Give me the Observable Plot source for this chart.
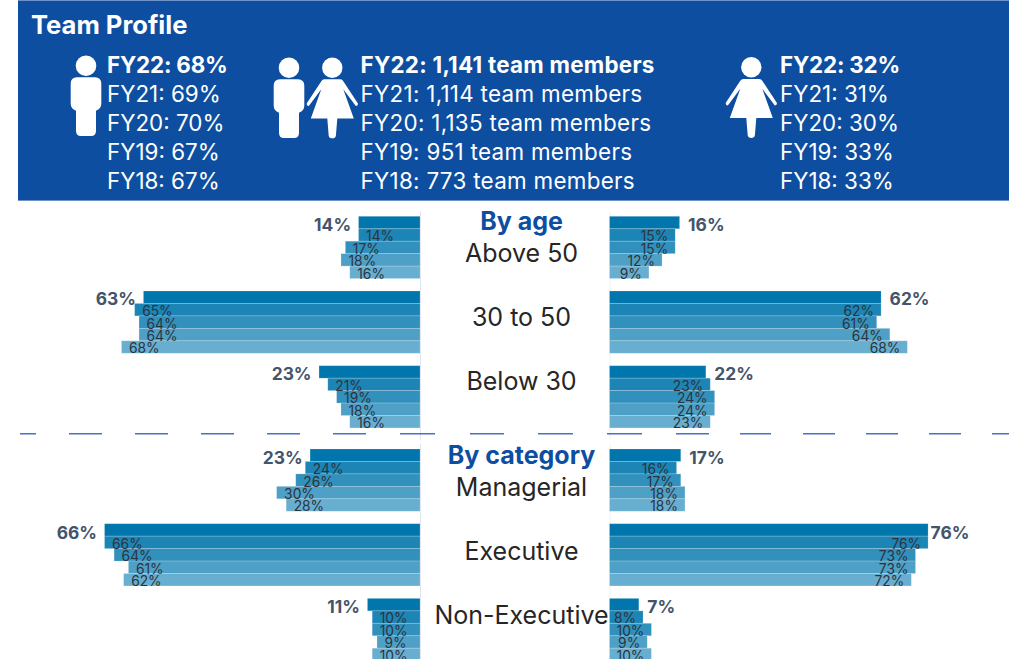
<!DOCTYPE html>
<html>
<head>
<meta charset="utf-8">
<script src="https://cdn.jsdelivr.net/npm/d3@7"></script>
<script src="https://cdn.jsdelivr.net/npm/@observablehq/plot@0.6"></script>
<style>
html,body{margin:0;padding:0;background:#fff;overflow:hidden;width:1009px;height:659px;font-family:Inter,"Liberation Sans",sans-serif}
#wrap{position:relative;width:1009px;height:659px;overflow:hidden}
#banner{position:absolute;left:18px;top:0;width:991px;height:199px;background:#0d4ea1;border-top:1px solid #6f93c9;border-bottom:1px solid #6f93c9}
.t{position:absolute;color:#fff;white-space:nowrap;font-size:22.4px;line-height:29px}
.t div:first-child{font-weight:700;letter-spacing:-.2px}
#col2{letter-spacing:.3px}
#col2 div:first-child{letter-spacing:.25px}
#title{position:absolute;left:31px;top:10px;color:#fff;font-weight:700;font-size:25.6px;line-height:30px}
#icons{position:absolute;left:0;top:0}
</style>
</head>
<body>
<div id="wrap">
  <div id="banner"></div>
  <div id="title">Team Profile</div>
  <svg id="icons" width="1009" height="200" fill="#fff">
    <defs>
      <g id="man">
        <circle cx="0" cy="0" r="10.3"/>
        <path d="M-9,11.5H9Q15.3,11.5 15.3,18V38Q15.3,43 10,45V65Q10,70.3 5,70.3H-5Q-10,70.3 -10,65V45Q-15.3,43 -15.3,38V18Q-15.3,11.5 -9,11.5Z"/>
      </g>
      <g id="woman">
        <circle cx="0" cy="0" r="10.2"/>
        <path d="M-8,11.6H8Q10,11.6 11,13.5L25.5,35.5Q26,38 23.5,38.3L11,21.5L21.5,50.8H5L3.6,68Q3,70.6 0,70.6Q-3,70.6 -3.6,68L-5,50.8H-21.5L-11,21.5L-23.5,38.3Q-26,38 -25.5,35.5L-11,13.5Q-10,11.6 -8,11.6Z"/>
      </g>
    </defs>
    <use href="#man" x="86" y="65.7"/>
    <use href="#man" x="289" y="67.7"/>
    <use href="#woman" x="332.3" y="67.7"/>
    <use href="#woman" x="751.3" y="67.3"/>
  </svg>
  <div id="col1" class="t" style="left:107px;top:50px"></div>
  <div id="col2" class="t" style="left:360.5px;top:50px"></div>
  <div id="col3" class="t" style="left:780px;top:50px"></div>
</div>
<script>
const fiscalYears = ["FY22","FY21","FY20","FY19","FY18"];
const malePct = ["68%","69%","70%","67%","67%"];
const teamMembers = ["1,141","1,114","1,135","951","773"];
const femalePct = ["32%","31%","30%","33%","33%"];

const ageGroups = ["Above 50","30 to 50","Below 30"];
const ageMale = [[14,14,17,18,16],[63,65,64,64,68],[23,21,19,18,16]];
const ageFemale = [[16,15,15,12,9],[62,62,61,64,68],[22,23,24,24,23]];

const categoryGroups = ["Managerial","Executive","Non-Executive"];
const categoryMale = [[23,24,26,30,28],[66,66,64,61,62],[11,10,10,9,10]];
const categoryFemale = [[17,16,17,18,18],[76,76,73,73,72],[7,8,10,9,10]];

const yearColors = ["#0076ad","#1c85b6","#3290bc","#4fa0c6","#68aed0"];
const FONT = 'Inter,"Liberation Sans",sans-serif';
const wrap = document.getElementById("wrap");

function place(plot,left,top){
  plot.style.position="absolute";
  plot.style.left=left+"px";
  plot.style.top=top+"px";
  wrap.appendChild(plot);
}
function fillCol(id, fmt){
  document.getElementById(id).innerHTML = fiscalYears.map((y,i)=>`<div>${y}: ${fmt(i)}</div>`).join("");
}
fillCol("col1", i=>malePct[i]);
fillCol("col2", i=>teamMembers[i]+" team members");
fillCol("col3", i=>femalePct[i]);

function rowsOf(groups, male, female){
  const out = [];
  groups.forEach((g,gi)=>{
    fiscalYears.forEach((fy,yi)=>{
      const row = g+"|"+fy;
      out.push({row, side:"M", v:male[gi][yi], yi, a:0, b:-male[gi][yi]});
      out.push({row, side:"F", v:female[gi][yi], yi, a:1, b:1+female[gi][yi]});
    });
  });
  return out;
}
function rowDomain(groups){
  const d = [];
  groups.forEach((g,i)=>{
    fiscalYears.forEach(fy=>d.push(g+"|"+fy));
    d.push("gap"+i);
  });
  return d;
}
function barsPlot(groups, male, female, opts){
  const data = rowsOf(groups, male, female);
  const inner = data.filter(d=>d.yi>0);
  const head = data.filter(d=>d.yi===0);
  const pct = d=>d.v+"%";
  const headText = (sel, anchor, dx)=>Plot.text(head.filter(sel),{
    x:"b", y:"row", text:pct, textAnchor:anchor, dx, dy:opts.headDy,
    fontSize:17.4, fontWeight:700, fill:"#44546a"});
  const plot = Plot.plot({
    width:1009, height:opts.height,
    marginTop:opts.marginTop, marginBottom:opts.marginBottom, marginLeft:0, marginRight:0,
    style:{fontFamily:FONT, background:"transparent"},
    x:{type:"linear", domain:opts.xDomain, range:[0,420,609.5,1009], axis:null},
    y:{type:"band", domain:rowDomain(groups), padding:0, round:false, axis:null},
    color:{type:"ordinal", domain:d3.range(5), range:yearColors},
    marks:[
      Plot.ruleX([0],{stroke:"#dde5f0",strokeWidth:1,insetTop:-5}),
      Plot.ruleX([1],{stroke:"#eef1f6",strokeWidth:1,insetTop:-5}),
      Plot.barX(data,{x1:"a",x2:"b",y:"row",fill:"yi",stroke:"#ffffff",strokeOpacity:.22,strokeWidth:.8}),
      Plot.text(inner.filter(d=>d.side==="M"),{x:"b",y:"row",text:pct,textAnchor:"start",dx:7,dy:1.5,fontSize:13.8,fill:"#2a3440"}),
      Plot.text(inner.filter(d=>d.side==="F"),{x:"b",y:"row",text:pct,textAnchor:"end",dx:-7.5,dy:1.5,fontSize:13.8,fill:"#2a3440"}),
      headText(d=>d.side==="M","end",-8),
      headText(d=>d.side==="F"&&d.v<70,"start",8),
      headText(d=>d.side==="F"&&d.v>=70,"start",2),
      ...(opts.extra||[])
    ]
  });
  place(plot,0,opts.top);
}
function centerPlot(header, groups, top){
  const domain = [header, groups[0], "_a", groups[1], "_b", groups[2]];
  const plot = Plot.plot({
    width:189, height:200, margin:0,
    style:{fontFamily:FONT, background:"transparent", overflow:"visible"},
    x:{type:"point", domain:["c"], range:[101,101], axis:null},
    y:{type:"point", domain, range:[21,181], padding:0, axis:null},
    marks:[
      Plot.text([header],{x:()=>"c",y:d=>d,text:d=>d,fontSize:25,fontWeight:700,fill:"#0d4ea1"}),
      Plot.text(groups,{x:()=>"c",y:d=>d,text:d=>d,fontSize:25,fill:"#262626"})
    ]
  });
  place(plot,420,top);
}
barsPlot(ageGroups, ageMale, ageFemale, {
  top:201, height:240, marginTop:15.3, marginBottom:0.6, headDy:2,
  xDomain:[-95.67,0,1,92.2],
  extra:[Plot.ruleY(["gap2"],{stroke:"#4472c4",strokeWidth:1.6,dy:-1,insetLeft:20,
    strokeDasharray:"16 33 33 33 33 33 33 33 33 33 33 34 35 35 34 34 35 34 35 34 33 31 31 32 32 31 32 31 32 31 17 10"})]
});
barsPlot(categoryGroups, categoryMale, categoryFemale, {
  top:441, height:218, marginTop:8, marginBottom:-14.1, headDy:2.5,
  xDomain:[-87.87,0,1,96.3]
});
centerPlot("By age", ageGroups, 200);
centerPlot("By category", categoryGroups, 434);
</script>
</body>
</html>
